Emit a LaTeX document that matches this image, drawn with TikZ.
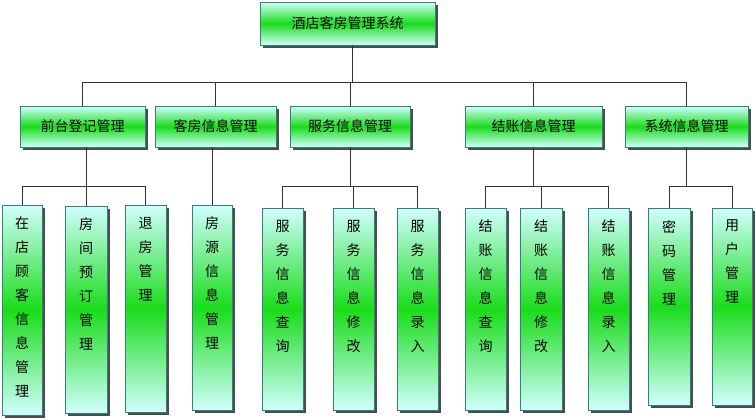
\documentclass[tikz,border=0pt]{standalone}
\usepackage{fontspec}
\setmainfont{Noto Sans CJK SC}
\tikzset{
  box/.style={draw=teal!60!gray, line width=0.8pt, top color=cyan!18, bottom color=cyan!18, middle color=green!85!black!90, shading angle=0, inner sep=0pt, font=\fontsize{14}{16}\selectfont,
    preaction={fill=black!70, transform canvas={shift={(2.5pt,-2.5pt)}}}},
  wire/.style={draw=black!80, line width=1pt},
  vtext/.style={anchor=north, align=center, font=\fontsize{14}{24}\selectfont, inner sep=0pt}
}
\newcommand\tallbox[6]{% name, x1, x2, y1, y2, text
  \node[box, minimum width={#3-#2}, minimum height={#5-#4}] (#1) at ({(#2+#3)/2},{(#4+#5)/2}) {};
  \node[vtext] (#1t) at ({(#2+#3)/2},{#4+12}) {#6};
}
\newcommand\widebox[6]{%
  \node[box, minimum width={#3-#2}, minimum height={#5-#4}] (#1) at ({(#2+#3)/2},{(#4+#5)/2}) {#6};
}
\begin{document}
\begin{tikzpicture}[x=1pt,y=-1pt]
\useasboundingbox (0,0) rectangle (755,418);
\widebox{root}{260}{435}{2}{45}{酒店客房管理系统}
\widebox{a}{20}{145}{106}{147}{前台登记管理}
\widebox{b}{155}{276}{106}{147}{客房信息管理}
\widebox{c}{290}{410}{106}{147}{服务信息管理}
\widebox{d}{465}{602}{106}{147}{结账信息管理}
\widebox{e}{625}{748}{106}{147}{系统信息管理}
\tallbox{a1}{2}{42}{205}{415}{在\\店\\顾\\客\\信\\息\\管\\理}
\tallbox{a2}{65}{107}{206}{413}{房\\间\\预\\订\\管\\理}
\tallbox{a3}{125}{166}{205}{412}{退\\房\\管\\理}
\tallbox{b1}{192}{232}{205}{410}{房\\源\\信\\息\\管\\理}
\tallbox{c1}{262}{303}{208}{410}{服\\务\\信\\息\\查\\询}
\tallbox{c2}{333}{374}{208}{410}{服\\务\\信\\息\\修\\改}
\tallbox{c3}{397}{438}{208}{410}{服\\务\\信\\息\\录\\入}
\tallbox{d1}{465}{506}{208}{410}{结\\账\\信\\息\\查\\询}
\tallbox{d2}{520}{562}{208}{410}{结\\账\\信\\息\\修\\改}
\tallbox{d3}{588}{629}{208}{410}{结\\账\\信\\息\\录\\入}
\tallbox{e1}{648}{690}{208}{405}{密\\码\\管\\理}
\tallbox{e2}{712}{752}{208}{405}{用\\户\\管\\理}
\coordinate (bus) at (352,82);
\draw[wire] (bus |- root.south) -- (bus);
\draw[wire] (a.north |- bus) -- (e.north |- bus);
\foreach \n in {a,b,c,d,e} \draw[wire] (\n.north |- bus) -- (\n.north);
\coordinate (ba) at (0,186);
\draw[wire] (a1.north |- ba) -- (a3.north |- ba);
\draw[wire] (a2.north |- a.south) -- (a2.north);
\draw[wire] (a1.north |- ba) -- (a1.north);
\draw[wire] (a3.north |- ba) -- (a3.north);
\draw[wire] (b1.north |- b.south) -- (b1.north);
\draw[wire] (c1.north |- ba) -- (c3.north |- ba);
\draw[wire] (c.south) -- (c.south |- ba);
\foreach \n in {c1,c2,c3} \draw[wire] (\n.north |- ba) -- (\n.north);
\draw[wire] (d1.north |- ba) -- (d3.north |- ba);
\draw[wire] (d.south) -- (d.south |- ba);
\foreach \n in {d1,d2,d3} \draw[wire] (\n.north |- ba) -- (\n.north);
\draw[wire] (e1.north |- ba) -- (e2.north |- ba);
\draw[wire] (e.south) -- (e.south |- ba);
\foreach \n in {e1,e2} \draw[wire] (\n.north |- ba) -- (\n.north);
\end{tikzpicture}
\end{document}
